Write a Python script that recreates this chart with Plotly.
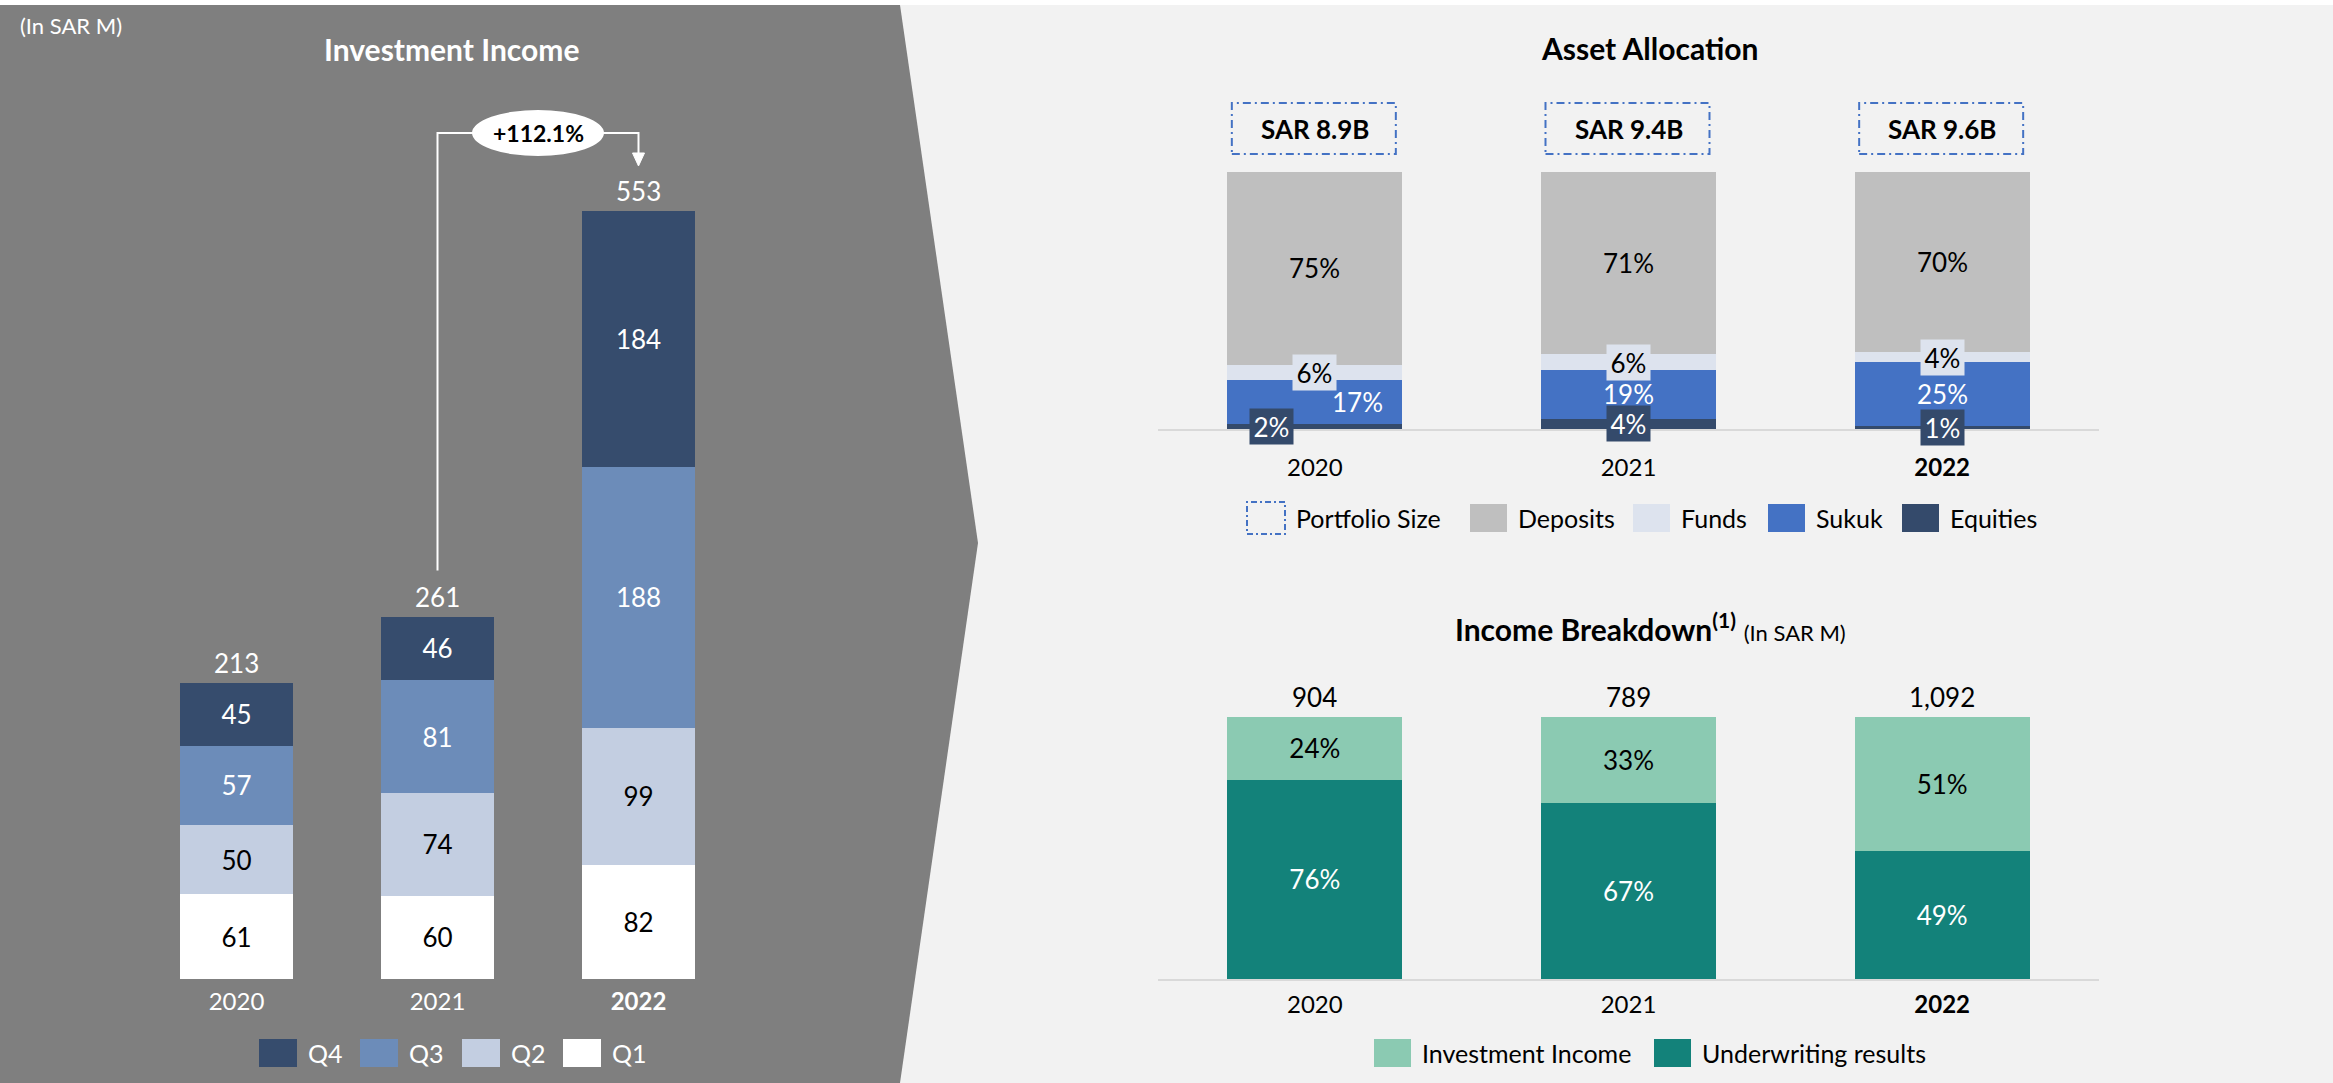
import plotly.graph_objects as go

# ---------------- data ----------------
years = ["2020", "2021", "2022"]

# Investment income by quarter (SAR M)
quarters = ["Q1", "Q2", "Q3", "Q4"]
q1 = [61, 60, 82]
q2 = [50, 74, 99]
q3 = [57, 81, 188]
q4 = [45, 46, 184]
growth_label = "+112.1%"

# Asset allocation (% of portfolio)
alloc_names = ["Equities", "Sukuk", "Funds", "Deposits"]
equities = [2, 4, 1]
sukuk = [17, 19, 25]
funds = [6, 6, 4]
deposits = [75, 71, 70]
portfolio_size = ["SAR 8.9B", "SAR 9.4B", "SAR 9.6B"]

# Income breakdown (% and totals SAR M)
income_names = ["Investment Income", "Underwriting results"]
underwriting_pct = [76, 67, 49]
investment_pct = [24, 33, 51]
income_totals = [904, 789, 1092]

# ---------------- styling ----------------
W, H = 2333, 1083
FONT = "Lato"
LBL = 26        # data label size
YR = 24         # year tick label size
GRAY_BG = "#7F7F7F"
RIGHT_BG = "#F2F2F2"
C_Q = {"Q1": "#FFFFFF", "Q2": "#C3CEE1", "Q3": "#6C8CB9", "Q4": "#364C6D"}
T_Q = {"Q1": "black", "Q2": "black", "Q3": "white", "Q4": "white"}
C_DEP, C_FUND, C_SUK, C_EQ = "#BFBFBF", "#DDE3EE", "#4472C4", "#344A6B"
C_INV, C_UW = "#8BCAB2", "#13827A"


def fx(p):
    return p / W


def fy(p):
    return 1 - p / H


fig = go.Figure()

# ---------- Investment income (left) ----------
qvals = {"Q1": q1, "Q2": q2, "Q3": q3, "Q4": q4}
for q in quarters:
    fig.add_trace(go.Bar(
        x=years, y=qvals[q], name=q, marker=dict(color=C_Q[q], line=dict(width=0)),
        text=qvals[q], textposition="inside", insidetextanchor="middle",
        textangle=0, textfont=dict(color=T_Q[q], size=LBL, family=FONT),
        xaxis="x", yaxis="y", cliponaxis=False,
    ))
totals = [a + b + c + d for a, b, c, d in zip(q1, q2, q3, q4)]

# ---------- Asset allocation (top right) ----------
alloc_vals = {"Equities": equities, "Sukuk": sukuk, "Funds": funds, "Deposits": deposits}
alloc_col = {"Equities": C_EQ, "Sukuk": C_SUK, "Funds": C_FUND, "Deposits": C_DEP}
for n in alloc_names:
    fig.add_trace(go.Bar(
        x=years, y=alloc_vals[n], name=n, marker=dict(color=alloc_col[n], line=dict(width=0)),
        xaxis="x2", yaxis="y2", hoverinfo="x+y+name",
    ))

# ---------- Income breakdown (bottom right) ----------
fig.add_trace(go.Bar(
    x=years, y=underwriting_pct, name=income_names[1], marker=dict(color=C_UW, line=dict(width=0)),
    texttemplate="%{y}%", textposition="inside", insidetextanchor="middle", textangle=0,
    textfont=dict(color="white", size=LBL, family=FONT), xaxis="x3", yaxis="y3",
))
fig.add_trace(go.Bar(
    x=years, y=investment_pct, name=income_names[0], marker=dict(color=C_INV, line=dict(width=0)),
    texttemplate="%{y}%", textposition="inside", insidetextanchor="middle", textangle=0,
    textfont=dict(color="black", size=LBL, family=FONT), xaxis="x3", yaxis="y3",
))

ticktext = [f"<b>{y}</b>" if y == years[-1] else y for y in years]

# axis geometry (pixels)
k_left = (979 - 211) / 553.0
left_top = 700
k_tr = (429 - 172) / 100.0
tr_top = 140
k_br = (979 - 717) / 100.0
br_top = 115

common_x = dict(type="category", range=[-0.5, 2.5], tickmode="array", tickvals=years,
                ticktext=ticktext, ticks="", showgrid=False, zeroline=False, fixedrange=True)
common_y = dict(showgrid=False, zeroline=False, showticklabels=False, fixedrange=True)

fig.update_layout(
    width=W, height=H, autosize=False,
    margin=dict(l=0, r=0, t=0, b=0),
    paper_bgcolor=RIGHT_BG, plot_bgcolor="rgba(0,0,0,0)",
    barmode="stack", bargap=0.442, showlegend=False,
    font=dict(family=FONT, size=LBL, color="black"),
    uniformtext=dict(minsize=LBL, mode="show"),
    xaxis=dict(common_x, domain=[fx(136), fx(739)], anchor="y", showline=False,
               tickfont=dict(color="white", size=YR, family=FONT), ticklabelstandoff=6),
    yaxis=dict(common_y, domain=[fy(979), fy(979 - left_top * k_left)], range=[0, left_top], anchor="x"),
    xaxis2=dict(common_x, domain=[fx(1158), fx(2099)], anchor="y2", showline=True,
                linecolor="#D9D9D9", linewidth=2,
                tickfont=dict(color="black", size=YR, family=FONT), ticklabelstandoff=16),
    yaxis2=dict(common_y, domain=[fy(429), fy(429 - tr_top * k_tr)], range=[0, tr_top], anchor="x2"),
    xaxis3=dict(common_x, domain=[fx(1158), fx(2099)], anchor="y3", showline=True,
                linecolor="#D9D9D9", linewidth=2,
                tickfont=dict(color="black", size=YR, family=FONT), ticklabelstandoff=3),
    yaxis3=dict(common_y, domain=[fy(979), fy(979 - br_top * k_br)], range=[0, br_top], anchor="x3"),
)

shapes = []
ann = []

# background: white strip on top, gray chevron panel
shapes.append(dict(type="rect", xref="paper", yref="paper", x0=0, x1=1, y0=fy(5), y1=1,
                   fillcolor="white", line=dict(width=0), layer="below"))
shapes.append(dict(type="path", xref="paper", yref="paper", layer="below",
                   path=f"M 0,{fy(5)} L {fx(900)},{fy(5)} L {fx(978)},{fy(543)} L {fx(900)},{fy(1083)} L 0,{fy(1083)} Z",
                   fillcolor=GRAY_BG, line=dict(width=0)))

# titles
ann.append(dict(xref="paper", yref="paper", x=fx(18), y=fy(25), xanchor="left", yanchor="middle",
                text="(In SAR M)", showarrow=False, font=dict(color="white", size=22, family=FONT)))
ann.append(dict(xref="paper", yref="paper", x=fx(451), y=fy(49), xanchor="center", yanchor="middle",
                text="<b>Investment Income</b>", showarrow=False, font=dict(color="white", size=30, family=FONT)))
ann.append(dict(xref="paper", yref="paper", x=fx(1649), y=fy(48), xanchor="center", yanchor="middle",
                text="<b>Asset Allocation</b>", showarrow=False, font=dict(color="black", size=30, family=FONT)))
ann.append(dict(xref="paper", yref="paper", x=fx(1650), y=fy(627), xanchor="center", yanchor="middle",
                text="<b>Income Breakdown</b><sup><b>(1)</b></sup> <span style='font-size:22px'>(In SAR M)</span>",
                showarrow=False, font=dict(color="black", size=30, family=FONT)))

# left totals
for i, t in enumerate(totals):
    ann.append(dict(xref="x", yref="y", x=i, y=t, yshift=20, yanchor="middle", text=str(t),
                    showarrow=False, font=dict(color="white", size=LBL, family=FONT)))

# growth arrow (2021 -> 2022)
y_top = (979 - 133) / k_left
y_tip = (979 - 166) / k_left
y_start = totals[1] + 46 / k_left
shapes.append(dict(type="path", xref="x", yref="y",
                   path=f"M 1,{y_start} L 1,{y_top} L 2,{y_top} L 2,{y_tip + 8 / k_left}",
                   line=dict(color="white", width=2)))
shapes.append(dict(type="path", xref="x", yref="y", xsizemode="pixel", ysizemode="pixel",
                   xanchor=2, yanchor=y_tip, path="M -6,13 L 6,13 L 0,0 Z",
                   fillcolor="white", line=dict(color="white", width=1)))
shapes.append(dict(type="circle", xref="x", yref="y", xsizemode="pixel", ysizemode="pixel",
                   xanchor=1.5, yanchor=y_top, x0=-66, x1=66, y0=-23, y1=23,
                   fillcolor="white", line=dict(width=0)))
ann.append(dict(xref="x", yref="y", x=1.5, y=y_top, text=f"<b>{growth_label}</b>", showarrow=False,
                font=dict(color="black", size=23, family=FONT)))

# asset allocation labels
sukuk_xshift = [43, 0, 0]
eq_xshift = [-43, 0, 0]
for i, y in enumerate(years):
    e, s, f, d = equities[i], sukuk[i], funds[i], deposits[i]
    ann.append(dict(xref="x2", yref="y2", x=i, y=e / 2, xshift=eq_xshift[i], text=f"{e}%",
                    showarrow=False, bgcolor=C_EQ, width=41, height=33,
                    font=dict(color="white", size=LBL, family=FONT)))
    ann.append(dict(xref="x2", yref="y2", x=i, y=e + s / 2, xshift=sukuk_xshift[i], text=f"{s}%",
                    showarrow=False, font=dict(color="white", size=LBL, family=FONT)))
    ann.append(dict(xref="x2", yref="y2", x=i, y=e + s + f / 2, text=f"{f}%",
                    showarrow=False, bgcolor=C_FUND, width=41, height=33,
                    font=dict(color="black", size=LBL, family=FONT)))
    ann.append(dict(xref="x2", yref="y2", x=i, y=e + s + f + d / 2, text=f"{d}%",
                    showarrow=False, font=dict(color="black", size=LBL, family=FONT)))
    # portfolio size dashed box
    shapes.append(dict(type="rect", xref="x2", yref="y2", xsizemode="pixel", ysizemode="pixel",
                       xanchor=i, yanchor=100, x0=-83, x1=81, y0=18, y1=69,
                       line=dict(color=C_SUK, width=2, dash="8px,4px,2px,4px"),
                       fillcolor="rgba(0,0,0,0)"))
    ann.append(dict(xref="x2", yref="y2", x=i, y=100, yshift=43, text=f"<b>{portfolio_size[i]}</b>",
                    showarrow=False, font=dict(color="black", size=LBL, family=FONT)))

# income totals
for i, t in enumerate(income_totals):
    ann.append(dict(xref="x3", yref="y3", x=i, y=100, yshift=20, yanchor="middle", text=f"{t:,}",
                    showarrow=False, font=dict(color="black", size=LBL, family=FONT)))


# ---------- custom legends ----------
def legend_item(x0, x1, yc, color, label, tcolor, dashed=False, h=28):
    if dashed:
        shapes.append(dict(type="rect", xref="paper", yref="paper", x0=fx(x0), x1=fx(x1),
                           y0=fy(yc + 16), y1=fy(yc - 16),
                           line=dict(color=C_SUK, width=2, dash="6px,3px,2px,3px"),
                           fillcolor="rgba(0,0,0,0)"))
    else:
        shapes.append(dict(type="rect", xref="paper", yref="paper", x0=fx(x0), x1=fx(x1),
                           y0=fy(yc + h / 2), y1=fy(yc - h / 2), fillcolor=color, line=dict(width=0)))
    ann.append(dict(xref="paper", yref="paper", x=fx(x1 + 9), y=fy(yc), xanchor="left", yanchor="middle",
                    text=label, showarrow=False, font=dict(color=tcolor, size=25, family=FONT)))


left_leg_x = [259, 360, 462, 563]
for q, lx in zip(["Q4", "Q3", "Q2", "Q1"], left_leg_x):
    legend_item(lx, lx + 38, 1053, C_Q[q], q, "white")

legend_item(1247, 1285, 518, None, "Portfolio Size", "black", dashed=True)
for n, lx in zip(["Deposits", "Funds", "Sukuk", "Equities"], [1470, 1633, 1768, 1902]):
    legend_item(lx, lx + 37, 518, alloc_col[n], n, "black")

for n, c, lx in zip(income_names, [C_INV, C_UW], [1374, 1654]):
    legend_item(lx, lx + 37, 1053, c, n, "black")

fig.update_layout(shapes=shapes, annotations=ann)
fig.write_html("out.html", config={"displayModeBar": False},
               post_script="document.body.style.margin='0';document.body.style.overflow='hidden';")
